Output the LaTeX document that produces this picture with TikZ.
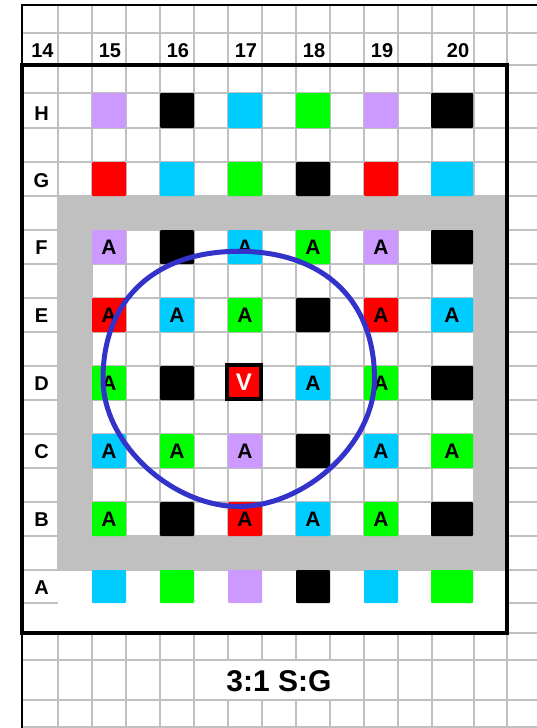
\documentclass[tikz,border=0pt]{standalone}
\usepackage{fontspec}
\setmainfont{Liberation Sans}
\definecolor{cpurple}{HTML}{CC99FF}
\definecolor{ccyan}{HTML}{00CCFF}
\definecolor{cgreen}{HTML}{00FF00}
\definecolor{cred}{HTML}{FF0000}
\definecolor{cgrey}{HTML}{C0C0C0}
\definecolor{cblue}{HTML}{3333CC}
\begin{document}
\begin{tikzpicture}[x=1pt,y=-1pt,
  gridline/.style={draw=cgrey,line width=1.3pt},
  sq/.style={draw=none,inner sep=0pt,minimum width=34pt,minimum height=34pt,rounded corners=1pt,font=\fontsize{21}{21}\selectfont\bfseries},
  wide/.style={minimum width=42pt},
  lbl/.style={inner sep=0pt,font=\fontsize{20}{20}\selectfont\bfseries},
  ringline/.style={draw=cblue,line width=5pt},
]
\fill[white] (0,0) rectangle (537,728);
\useasboundingbox (0,0) rectangle (537,728);
% grid
\foreach \x in {58,92,126,160,194,228,262,296,330,364,398,432,474,507}
  \draw[gridline] (\x,5) -- (\x,728);
\foreach \y in {33,65,93,128,162,196,230,264,298,332,366,400,434,468,502,536,570,603,633,660,700,727}
  \draw[gridline] (22,\y) -- (537,\y);
% blank areas without grid
\fill[white] (23.5,570.7) rectangle (505.5,631.5);
\draw[gridline] (22,570) -- (58,570);
\draw[gridline] (22,603) -- (58,603);
\fill[white] (194.7,660.7) rectangle (363.3,699.3);
% grey frame
\fill[cgrey,even odd rule] (58,196) rectangle (507,570) (92,230) rectangle (474,536);
% row H
\node[sq,fill=cpurple,minimum height=35pt] (h15) at (109,110.5) {};
\node[sq,fill=black,minimum height=35pt] (h16) at (177,110.5) {};
\node[sq,fill=ccyan,minimum height=35pt] (h17) at (245,110.5) {};
\node[sq,fill=cgreen,minimum height=35pt] (h18) at (313,110.5) {};
\node[sq,fill=cpurple,minimum height=35pt] (h19) at (381,110.5) {};
\node[sq,wide,fill=black,minimum height=35pt] (h20) at (452,110.5) {};
% row G
\node[sq,fill=cred] (g15) at (109,179) {};
\node[sq,fill=ccyan] (g16) at (177,179) {};
\node[sq,fill=cgreen] (g17) at (245,179) {};
\node[sq,fill=black] (g18) at (313,179) {};
\node[sq,fill=cred] (g19) at (381,179) {};
\node[sq,wide,fill=ccyan] (g20) at (452,179) {};
% row F
\node[sq,fill=cpurple] (f15) at (109,247) {A};
\node[sq,fill=black] (f16) at (177,247) {};
\node[sq,fill=ccyan] (f17) at (245,247) {A};
\node[sq,fill=cgreen] (f18) at (313,247) {A};
\node[sq,fill=cpurple] (f19) at (381,247) {A};
\node[sq,wide,fill=black] (f20) at (452,247) {};
% row E
\node[sq,fill=cred] (e15) at (109,315) {A};
\node[sq,fill=ccyan] (e16) at (177,315) {A};
\node[sq,fill=cgreen] (e17) at (245,315) {A};
\node[sq,fill=black] (e18) at (313,315) {};
\node[sq,fill=cred] (e19) at (381,315) {A};
\node[sq,wide,fill=ccyan] (e20) at (452,315) {A};
% row D
\node[sq,fill=cgreen] (d15) at (109,383) {A};
\node[sq,fill=black] (d16) at (177,383) {};
\node[sq,fill=cred,draw=black,line width=4pt,rounded corners=0pt,minimum height=33.4pt,text=white,font=\fontsize{24}{24}\selectfont\bfseries] (d17) at (244,382) {V};
\node[sq,fill=ccyan] (d18) at (313,383) {A};
\node[sq,fill=cgreen] (d19) at (381,383) {A};
\node[sq,wide,fill=black] (d20) at (452,383) {};
% row C
\node[sq,fill=ccyan] (c15) at (109,451) {A};
\node[sq,fill=cgreen] (c16) at (177,451) {A};
\node[sq,fill=cpurple] (c17) at (245,451) {A};
\node[sq,fill=black] (c18) at (313,451) {};
\node[sq,fill=ccyan] (c19) at (381,451) {A};
\node[sq,wide,fill=cgreen] (c20) at (452,451) {A};
% row B
\node[sq,fill=cgreen] (b15) at (109,519) {A};
\node[sq,fill=black] (b16) at (177,519) {};
\node[sq,fill=cred] (b17) at (245,519) {A};
\node[sq,fill=ccyan] (b18) at (313,519) {A};
\node[sq,fill=cgreen] (b19) at (381,519) {A};
\node[sq,wide,fill=black] (b20) at (452,519) {};
% row A
\node[sq,fill=ccyan,minimum height=33pt] (a15) at (109,586.5) {};
\node[sq,fill=cgreen,minimum height=33pt] (a16) at (177,586.5) {};
\node[sq,fill=cpurple,minimum height=33pt] (a17) at (245,586.5) {};
\node[sq,fill=black,minimum height=33pt] (a18) at (313,586.5) {};
\node[sq,fill=ccyan,minimum height=33pt] (a19) at (381,586.5) {};
\node[sq,wide,fill=cgreen,minimum height=33pt] (a20) at (452,586.5) {};
% borders
\draw[line width=3.5pt] (22,65) rectangle (507,633);
\draw[line width=2.5pt] (22,4.5) -- (22,728);
\draw[line width=2pt] (21,4.5) -- (537,4.5);
% column labels
\node[lbl] (k14) at (42.5,50.5) {14};
\node[lbl] (k15) at (110,50.5) {15};
\node[lbl] (k16) at (178,50.5) {16};
\node[lbl] (k17) at (246,50.5) {17};
\node[lbl] (k18) at (314,50.5) {18};
\node[lbl] (k19) at (382,50.5) {19};
\node[lbl] (k20) at (458,50.5) {20};
% row labels
\node[lbl] (rH) at (41.5,114) {H};
\node[lbl] (rG) at (41.5,181) {G};
\node[lbl] (rF) at (41.5,248) {F};
\node[lbl] (rE) at (41.5,316) {E};
\node[lbl] (rD) at (41.5,384) {D};
\node[lbl] (rC) at (41.5,452) {C};
\node[lbl] (rB) at (41.5,520) {B};
\node[lbl] (rA) at (41.5,588) {A};
% hand-drawn circle (slightly egg-shaped)
\coordinate (ringc) at (238.75,378.9);
\coordinate (ringE) at (374.5,378.9);
\coordinate (ringN) at (238.75,251.3);
\coordinate (ringW) at (103,378.9);
\coordinate (ringS) at (238.75,506.5);
\draw[ringline] (ringE)
  .. controls (374.5,299.8) and (322.9,251.3) .. (ringN)
  .. controls (154.6,251.3) and (103,299.8) .. (ringW)
  .. controls (103,444) and (172.5,506.5) .. (ringS)
  .. controls (305,506.5) and (374.5,444) .. (ringE) -- cycle;
% caption
\node[inner sep=0pt,font=\fontsize{30}{30}\selectfont\bfseries] (title) at (279,681.5) {3:1 S:G};
\end{tikzpicture}
\end{document}
